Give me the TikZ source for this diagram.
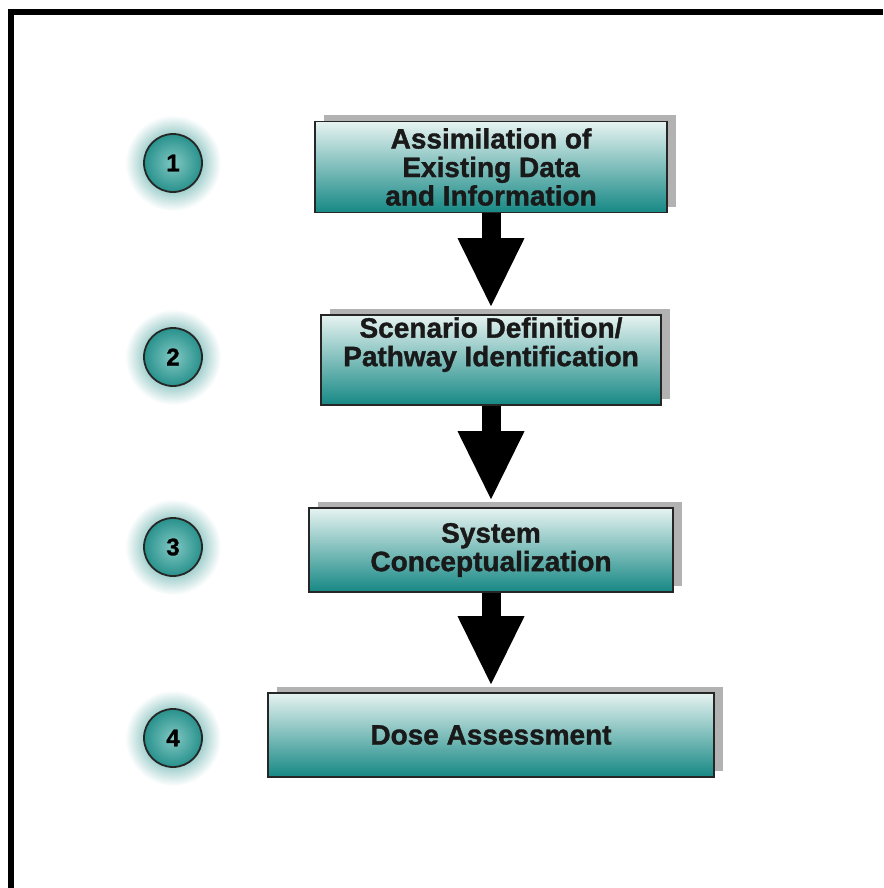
\documentclass[tikz,border=0pt]{standalone}
\usepackage{fontspec}
\setmainfont{Liberation Sans}[BoldFeatures={FakeBold=1.3}]
\usetikzlibrary{arrows.meta,shadows}
\definecolor{boxtop}{RGB}{230,243,241}
\definecolor{boxbot}{RGB}{22,136,132}
\definecolor{glowteal}{RGB}{20,135,130}
\definecolor{dotin}{RGB}{130,200,195}
\definecolor{dotout}{RGB}{40,145,140}

\begin{document}
\begin{tikzpicture}
[x=1pt,y=-1pt,
stepbox/.style={rectangle,draw=black!85,line width=1.6pt,top color=boxtop,bottom color=boxbot,
  drop shadow={shadow xshift=9pt,shadow yshift=6pt,fill=gray!60,opacity=1},
  align=center,font=\fontsize{28}{28.5}\selectfont\bfseries,text=black!90,inner sep=0pt},
numdot/.style={circle,draw=black!85,line width=1.8pt,inner color=dotin,outer color=dotout,
  minimum size=58pt,inner sep=0pt,font=\fontsize{24}{24}\selectfont\bfseries},
bigarrow/.style={line width=19pt,-{Triangle[width=67pt,length=68pt,line width=0pt]},shorten >=8pt}]

\useasboundingbox (0,0) rectangle (883,888);
\draw[line width=6pt] (11,888) -- (11,12) -- (883,12);

\node (b1) at (491,167) [stepbox,minimum width=352pt,minimum height=91pt] {Assimilation of\\Existing Data\\and Information};
\node (b2) at (491,360) [stepbox,minimum width=340pt,minimum height=90pt] {Scenario Definition/\\Pathway Identification\\[8pt]\mbox{}};
\node (b3) at (491,550) [stepbox,minimum width=364pt,minimum height=84pt] {System\\Conceptualization};
\node (b4) at (491,735) [stepbox,minimum width=446pt,minimum height=84pt] {Dose Assessment};

\foreach \i/\y in {1/163,2/357,3/547,4/738}
{
	\shade[inner color=glowteal,outer color=white] (173,\y) circle (48);
	\node (n\i) at (173,\y) [numdot] {\i};
}

\foreach \from/\to in {b1/b2,b2/b3,b3/b4}
	\draw[bigarrow] (\from) -- (\to);

\end{tikzpicture}
\end{document}
